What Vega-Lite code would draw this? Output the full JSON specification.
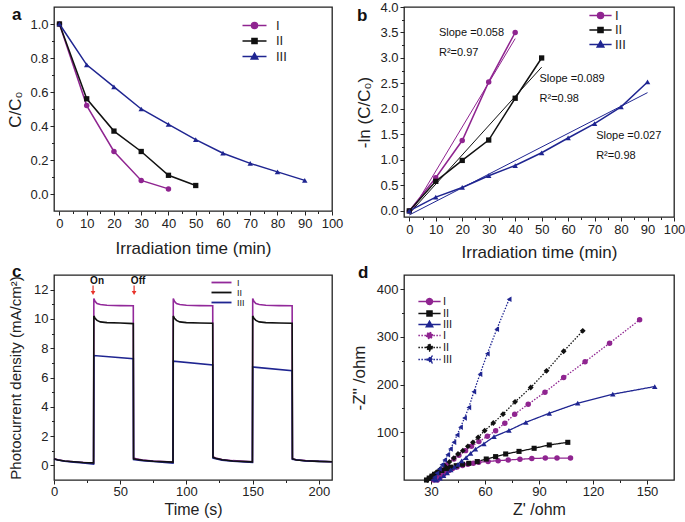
{
"$schema": "https://vega.github.io/schema/vega-lite/v6.json",
"padding": {"left": 6, "top": 0, "right": 1, "bottom": 0},
"background": "white",
"config": {
  "font": "Liberation Sans",
  "view": {"stroke": "#222", "strokeWidth": 1.3},
  "axis": {"domain": false, "grid": false, "tickColor": "#222", "tickWidth": 1, "labelColor": "#222", "labelFontSize": 13, "titleFontSize": 17, "titleFontWeight": "normal", "titleColor": "#222", "labelFont": "Liberation Sans", "titleFont": "Liberation Sans", "labelOverlap": false, "labelFlush": false, "labelPadding": 2},
  "legend": {"labelFont": "Liberation Sans", "labelColor": "#222", "padding": 0},
  "title": {"font": "Liberation Sans", "fontSize": 17, "fontWeight": "bold", "color": "#111", "anchor": "start", "frame": "group", "offset": 0, "baseline": "middle"}
},
"bounds": "flush",
"columns": 2,
"spacing": {"row": 58, "column": 72},
"resolve": {"scale": {"color": "independent", "shape": "independent", "strokeDash": "independent", "x": "independent", "y": "independent"}, "legend": {"color": "independent", "shape": "independent", "strokeDash": "independent"}},
"datasets": {
  "a": [
    {"t":0,"v":1.0,"s":"I"},{"t":10,"v":0.52,"s":"I"},{"t":20,"v":0.25,"s":"I"},{"t":30,"v":0.08,"s":"I"},{"t":40,"v":0.03,"s":"I"},
    {"t":0,"v":1.0,"s":"II"},{"t":10,"v":0.56,"s":"II"},{"t":20,"v":0.37,"s":"II"},{"t":30,"v":0.25,"s":"II"},{"t":40,"v":0.11,"s":"II"},{"t":50,"v":0.05,"s":"II"},
    {"t":0,"v":1.0,"s":"III"},{"t":10,"v":0.76,"s":"III"},{"t":20,"v":0.63,"s":"III"},{"t":30,"v":0.50,"s":"III"},{"t":40,"v":0.41,"s":"III"},{"t":50,"v":0.32,"s":"III"},{"t":60,"v":0.24,"s":"III"},{"t":70,"v":0.18,"s":"III"},{"t":80,"v":0.13,"s":"III"},{"t":90,"v":0.08,"s":"III"}
  ],
  "b": [
    {"t":0,"v":0,"s":"I"},{"t":10,"v":0.65,"s":"I"},{"t":20,"v":1.38,"s":"I"},{"t":30,"v":2.53,"s":"I"},{"t":40,"v":3.5,"s":"I"},
    {"t":0,"v":0,"s":"II"},{"t":10,"v":0.58,"s":"II"},{"t":20,"v":0.99,"s":"II"},{"t":30,"v":1.39,"s":"II"},{"t":40,"v":2.21,"s":"II"},{"t":50,"v":3.0,"s":"II"},
    {"t":0,"v":0,"s":"III"},{"t":10,"v":0.27,"s":"III"},{"t":20,"v":0.46,"s":"III"},{"t":30,"v":0.69,"s":"III"},{"t":40,"v":0.89,"s":"III"},{"t":50,"v":1.14,"s":"III"},{"t":60,"v":1.43,"s":"III"},{"t":70,"v":1.71,"s":"III"},{"t":80,"v":2.04,"s":"III"},{"t":90,"v":2.53,"s":"III"}
  ],
  "bfit": [
    {"t":1,"v":0.0,"s":"I"},{"t":40,"v":3.38,"s":"I"},
    {"t":0,"v":-0.05,"s":"II"},{"t":50,"v":2.82,"s":"II"},
    {"t":0,"v":-0.08,"s":"III"},{"t":90,"v":2.32,"s":"III"}
  ],
  "bnote": [
    {"t":11.2,"v":3.49,"note":"Slope =0.058"},{"t":11.2,"v":3.1,"note":"R²=0.97"},
    {"t":49.2,"v":2.59,"note":"Slope =0.089"},{"t":49.2,"v":2.2,"note":"R²=0.98"},
    {"t":70.6,"v":1.46,"note":"Slope =0.027"},{"t":70.6,"v":1.08,"note":"R²=0.98"}
  ],
  "c": [
    {"t":0,"v":0.45,"s":"I"},{"t":3,"v":0.38,"s":"I"},{"t":8,"v":0.3,"s":"I"},{"t":15,"v":0.25,"s":"I"},{"t":22,"v":0.2,"s":"I"},{"t":29.9,"v":0.15,"s":"I"},{"t":30.1,"v":11.4,"s":"I"},{"t":31,"v":11.2,"s":"I"},{"t":32.5,"v":11.05,"s":"I"},{"t":35,"v":10.98,"s":"I"},{"t":40,"v":10.93,"s":"I"},{"t":50,"v":10.91,"s":"I"},{"t":59.9,"v":10.9,"s":"I"},{"t":60.1,"v":0.5,"s":"I"},{"t":62,"v":0.45,"s":"I"},{"t":67,"v":0.36,"s":"I"},{"t":75,"v":0.3,"s":"I"},{"t":89.9,"v":0.22,"s":"I"},{"t":90.1,"v":11.4,"s":"I"},{"t":91,"v":11.2,"s":"I"},{"t":92.5,"v":11.05,"s":"I"},{"t":95,"v":10.98,"s":"I"},{"t":100,"v":10.93,"s":"I"},{"t":110,"v":10.91,"s":"I"},{"t":119.9,"v":10.9,"s":"I"},{"t":120.1,"v":0.6,"s":"I"},{"t":122,"v":0.5,"s":"I"},{"t":127,"v":0.4,"s":"I"},{"t":135,"v":0.32,"s":"I"},{"t":149.9,"v":0.24,"s":"I"},{"t":150.1,"v":11.4,"s":"I"},{"t":151,"v":11.2,"s":"I"},{"t":152.5,"v":11.05,"s":"I"},{"t":155,"v":10.98,"s":"I"},{"t":160,"v":10.93,"s":"I"},{"t":170,"v":10.91,"s":"I"},{"t":179.9,"v":10.9,"s":"I"},{"t":180.1,"v":0.45,"s":"I"},{"t":183,"v":0.38,"s":"I"},{"t":190,"v":0.32,"s":"I"},{"t":200,"v":0.28,"s":"I"},{"t":210,"v":0.25,"s":"I"},
    {"t":0,"v":0.45,"s":"II"},{"t":3,"v":0.37,"s":"II"},{"t":8,"v":0.3,"s":"II"},{"t":15,"v":0.25,"s":"II"},{"t":22,"v":0.2,"s":"II"},{"t":29.9,"v":0.17,"s":"II"},{"t":30.1,"v":10.2,"s":"II"},{"t":31,"v":10.05,"s":"II"},{"t":32.5,"v":9.9,"s":"II"},{"t":35,"v":9.8,"s":"II"},{"t":40,"v":9.75,"s":"II"},{"t":50,"v":9.72,"s":"II"},{"t":59.9,"v":9.68,"s":"II"},{"t":60.1,"v":0.45,"s":"II"},{"t":62,"v":0.42,"s":"II"},{"t":67,"v":0.35,"s":"II"},{"t":75,"v":0.28,"s":"II"},{"t":89.9,"v":0.22,"s":"II"},{"t":90.1,"v":10.2,"s":"II"},{"t":91,"v":10.05,"s":"II"},{"t":92.5,"v":9.9,"s":"II"},{"t":95,"v":9.8,"s":"II"},{"t":100,"v":9.75,"s":"II"},{"t":110,"v":9.72,"s":"II"},{"t":119.9,"v":9.7,"s":"II"},{"t":120.1,"v":0.55,"s":"II"},{"t":122,"v":0.48,"s":"II"},{"t":127,"v":0.38,"s":"II"},{"t":135,"v":0.3,"s":"II"},{"t":149.9,"v":0.24,"s":"II"},{"t":150.1,"v":10.2,"s":"II"},{"t":151,"v":10.05,"s":"II"},{"t":152.5,"v":9.9,"s":"II"},{"t":155,"v":9.8,"s":"II"},{"t":160,"v":9.75,"s":"II"},{"t":170,"v":9.72,"s":"II"},{"t":179.9,"v":9.7,"s":"II"},{"t":180.1,"v":0.45,"s":"II"},{"t":183,"v":0.37,"s":"II"},{"t":190,"v":0.31,"s":"II"},{"t":200,"v":0.27,"s":"II"},{"t":210,"v":0.25,"s":"II"},
    {"t":0,"v":0.42,"s":"III"},{"t":8,"v":0.28,"s":"III"},{"t":15,"v":0.22,"s":"III"},{"t":22,"v":0.17,"s":"III"},{"t":29.9,"v":0.08,"s":"III"},{"t":30.1,"v":7.5,"s":"III"},{"t":59.9,"v":7.28,"s":"III"},{"t":60.1,"v":0.4,"s":"III"},{"t":67,"v":0.32,"s":"III"},{"t":75,"v":0.26,"s":"III"},{"t":89.9,"v":0.15,"s":"III"},{"t":90.1,"v":7.12,"s":"III"},{"t":119.9,"v":6.85,"s":"III"},{"t":120.1,"v":0.5,"s":"III"},{"t":127,"v":0.36,"s":"III"},{"t":135,"v":0.28,"s":"III"},{"t":149.9,"v":0.2,"s":"III"},{"t":150.1,"v":6.72,"s":"III"},{"t":179.9,"v":6.46,"s":"III"},{"t":180.1,"v":0.42,"s":"III"},{"t":190,"v":0.3,"s":"III"},{"t":200,"v":0.27,"s":"III"},{"t":210,"v":0.25,"s":"III"}
  ],
  "cev": [{"ev":"On","t":29.5,"v":12.62},{"ev":"Off","t":60.5,"v":12.62}],
  "d": [
    {"zr":33.5,"zi":0,"s":"I-s"},{"zr":34.5,"zi":4,"s":"I-s"},{"zr":35.5,"zi":8,"s":"I-s"},{"zr":37,"zi":12,"s":"I-s"},{"zr":38.5,"zi":16,"s":"I-s"},{"zr":40,"zi":20,"s":"I-s"},{"zr":42,"zi":24,"s":"I-s"},{"zr":44.5,"zi":27.5,"s":"I-s"},{"zr":47.5,"zi":30.5,"s":"I-s"},{"zr":50.5,"zi":33,"s":"I-s"},{"zr":53.5,"zi":35,"s":"I-s"},{"zr":56.5,"zi":37,"s":"I-s"},{"zr":61.7,"zi":39,"s":"I-s"},{"zr":67.3,"zi":40.5,"s":"I-s"},{"zr":72.9,"zi":42,"s":"I-s"},{"zr":79.4,"zi":43.5,"s":"I-s"},{"zr":86,"zi":45,"s":"I-s"},{"zr":93.5,"zi":46,"s":"I-s"},{"zr":100,"zi":46,"s":"I-s"},{"zr":107.5,"zi":46,"s":"I-s"},
    {"zr":27.5,"zi":0,"s":"II-s"},{"zr":29,"zi":4,"s":"II-s"},{"zr":30.5,"zi":8,"s":"II-s"},{"zr":32,"zi":12,"s":"II-s"},{"zr":34,"zi":16,"s":"II-s"},{"zr":36,"zi":20,"s":"II-s"},{"zr":38.5,"zi":24,"s":"II-s"},{"zr":41,"zi":27,"s":"II-s"},{"zr":44,"zi":30,"s":"II-s"},{"zr":47.5,"zi":33,"s":"II-s"},{"zr":51,"zi":35,"s":"II-s"},{"zr":55.7,"zi":38.6,"s":"II-s"},{"zr":60.7,"zi":44,"s":"II-s"},{"zr":65.9,"zi":49,"s":"II-s"},{"zr":71.5,"zi":54.6,"s":"II-s"},{"zr":78.9,"zi":60,"s":"II-s"},{"zr":87.3,"zi":66.5,"s":"II-s"},{"zr":95.7,"zi":73.5,"s":"II-s"},{"zr":106,"zi":79,"s":"II-s"},
    {"zr":33,"zi":0,"s":"III-s"},{"zr":35,"zi":4,"s":"III-s"},{"zr":37,"zi":9,"s":"III-s"},{"zr":39,"zi":15,"s":"III-s"},{"zr":41,"zi":21,"s":"III-s"},{"zr":43,"zi":27,"s":"III-s"},{"zr":45,"zi":33,"s":"III-s"},{"zr":47,"zi":40,"s":"III-s"},{"zr":49.5,"zi":47,"s":"III-s"},{"zr":52,"zi":56,"s":"III-s"},{"zr":54.7,"zi":65,"s":"III-s"},{"zr":59.4,"zi":76,"s":"III-s"},{"zr":65,"zi":91,"s":"III-s"},{"zr":73.3,"zi":104,"s":"III-s"},{"zr":82.7,"zi":121,"s":"III-s"},{"zr":95.7,"zi":140,"s":"III-s"},{"zr":111.5,"zi":161,"s":"III-s"},{"zr":131,"zi":180,"s":"III-s"},{"zr":154.3,"zi":196,"s":"III-s"},
    {"zr":31.5,"zi":0,"s":"I-d"},{"zr":32.5,"zi":5,"s":"I-d"},{"zr":34,"zi":11,"s":"I-d"},{"zr":36,"zi":21,"s":"I-d"},{"zr":38.9,"zi":32,"s":"I-d"},{"zr":42.7,"zi":44,"s":"I-d"},{"zr":45.5,"zi":52,"s":"I-d"},{"zr":49.2,"zi":61.6,"s":"I-d"},{"zr":52.5,"zi":70.7,"s":"I-d"},{"zr":56.6,"zi":80.5,"s":"I-d"},{"zr":61.3,"zi":91.6,"s":"I-d"},{"zr":65.9,"zi":103.5,"s":"I-d"},{"zr":71,"zi":119,"s":"I-d"},{"zr":76.5,"zi":138,"s":"I-d"},{"zr":84,"zi":159,"s":"I-d"},{"zr":93.3,"zi":184,"s":"I-d"},{"zr":103.7,"zi":215,"s":"I-d"},{"zr":115.6,"zi":248,"s":"I-d"},{"zr":129.2,"zi":287,"s":"I-d"},{"zr":145.9,"zi":336,"s":"I-d"},
    {"zr":28,"zi":0,"s":"II-d"},{"zr":29.5,"zi":5,"s":"II-d"},{"zr":31,"zi":10,"s":"II-d"},{"zr":33,"zi":16,"s":"II-d"},{"zr":35,"zi":22,"s":"II-d"},{"zr":37.5,"zi":30,"s":"II-d"},{"zr":40.2,"zi":38,"s":"II-d"},{"zr":42.7,"zi":46,"s":"II-d"},{"zr":45,"zi":54.6,"s":"II-d"},{"zr":47.7,"zi":61.6,"s":"II-d"},{"zr":50.5,"zi":70.7,"s":"II-d"},{"zr":53.3,"zi":79,"s":"II-d"},{"zr":56.2,"zi":89.5,"s":"II-d"},{"zr":59.8,"zi":103.5,"s":"II-d"},{"zr":64.6,"zi":119.5,"s":"II-d"},{"zr":70,"zi":138,"s":"II-d"},{"zr":76.7,"zi":164,"s":"II-d"},{"zr":85.4,"zi":194,"s":"II-d"},{"zr":94.2,"zi":229,"s":"II-d"},{"zr":103.7,"zi":270,"s":"II-d"},{"zr":114.3,"zi":312.8,"s":"II-d"},
    {"zr":31.1,"zi":0,"s":"III-d"},{"zr":32,"zi":5.8,"s":"III-d"},{"zr":33.3,"zi":14,"s":"III-d"},{"zr":34.7,"zi":23,"s":"III-d"},{"zr":36.1,"zi":32,"s":"III-d"},{"zr":37.6,"zi":42,"s":"III-d"},{"zr":39.3,"zi":53,"s":"III-d"},{"zr":40.8,"zi":65,"s":"III-d"},{"zr":42.7,"zi":79,"s":"III-d"},{"zr":44.5,"zi":94.4,"s":"III-d"},{"zr":46.4,"zi":110.5,"s":"III-d"},{"zr":48.6,"zi":130,"s":"III-d"},{"zr":51,"zi":152,"s":"III-d"},{"zr":53.8,"zi":185,"s":"III-d"},{"zr":57.2,"zi":222,"s":"III-d"},{"zr":61.3,"zi":265,"s":"III-d"},{"zr":66.5,"zi":316,"s":"III-d"},{"zr":73.4,"zi":379,"s":"III-d"}
  ]
},
"concat": [
  {
    "title": {"text": "a", "dx": -42, "dy": 21},
    "width": 278, "height": 204,
    "data": {"name": "a"},
    "encoding": {
      "x": {"field": "t", "type": "quantitative", "scale": {"domain": [-2, 100], "nice": false, "zero": false},
        "axis": {"title": "Irradiation time (min)", "values": [0,5,10,15,20,25,30,35,40,45,50,55,60,65,70,75,80,85,90,95,100], "labelExpr": "datum.value % 10 === 0 ? datum.label : ''", "tickSize": {"condition": {"test": "datum.value % 10 === 0", "value": 4}, "value": 2.5}, "titlePadding": 10}},
      "y": {"field": "v", "type": "quantitative", "scale": {"domain": [-0.1, 1.1], "nice": false, "zero": false},
        "axis": {"title": "C/C₀", "values": [0,0.1,0.2,0.3,0.4,0.5,0.6,0.7,0.8,0.9,1.0], "format": ".1f", "labelExpr": "round(datum.value*10) % 2 === 0 ? datum.label : ''", "tickSize": {"condition": {"test": "round(datum.value*10) % 2 === 0", "value": 4}, "value": 2.5}, "titlePadding": 5}},
      "color": {"field": "s", "type": "nominal", "scale": {"domain": ["I","II","III"], "range": ["#8f2490","#111111","#1f2591"]},
        "legend": {"title": null, "orient": "none", "legendX": 194, "legendY": 12, "labelFontSize": 13, "labelOffset": 15, "rowPadding": 1.5, "symbolSize": 36, "symbolStrokeWidth": 1.5, "symbolOpacity": 1}}
    },
    "layer": [
      {"mark": {"type": "line", "strokeWidth": 1.5}},
      {"transform": [{"filter": "datum.s === 'I'"}], "mark": {"type": "point", "shape": "circle", "filled": true, "size": 30, "opacity": 1}},
      {"transform": [{"filter": "datum.s === 'II'"}], "mark": {"type": "point", "shape": "square", "filled": true, "size": 28, "opacity": 1}},
      {"transform": [{"filter": "datum.s === 'III'"}], "mark": {"type": "point", "shape": "triangle-up", "filled": true, "size": 30, "opacity": 1}},
      {"data": {"values": []}, "mark": {"type": "point", "filled": true, "size": 36, "opacity": 1},
       "encoding": {"shape": {"field": "s", "type": "nominal", "scale": {"domain": ["I","II","III"], "range": ["M-4,0H4M-1,0A1,1,0,1,0,1,0A1,1,0,1,0,-1,0Z", "M-4,0H4M-0.85,-0.85H0.85V0.85H-0.85Z", "M-4,0H4M0,-1.1L1.1,0.8H-1.1Z"]},
         "legend": {"title": null, "orient": "none", "legendX": 194, "legendY": 12, "labelFontSize": 13, "labelOffset": 15, "rowPadding": 1.5, "symbolSize": 36, "symbolStrokeWidth": 1.5, "symbolOpacity": 1}}}}
    ]
  },
  {
    "title": {"text": "b", "dx": -47, "dy": 27.5},
    "width": 270, "height": 210,
    "data": {"name": "b"},
    "encoding": {
      "x": {"field": "t", "type": "quantitative", "scale": {"domain": [-2, 100], "nice": false, "zero": false},
        "axis": {"title": "Irradiation time (min)", "values": [0,5,10,15,20,25,30,35,40,45,50,55,60,65,70,75,80,85,90,95,100], "labelExpr": "datum.value % 10 === 0 ? datum.label : ''", "tickSize": {"condition": {"test": "datum.value % 10 === 0", "value": 4}, "value": 2.5}, "titlePadding": 8}},
      "y": {"field": "v", "type": "quantitative", "scale": {"domain": [-0.12, 4.0], "nice": false, "zero": false},
        "axis": {"title": "-ln (C/C₀)", "values": [0,0.25,0.5,0.75,1,1.25,1.5,1.75,2,2.25,2.5,2.75,3,3.25,3.5,3.75,4], "format": ".1f", "labelExpr": "round(datum.value*4) % 2 === 0 ? datum.label : ''", "tickSize": {"condition": {"test": "round(datum.value*4) % 2 === 0", "value": 4}, "value": 2.5}, "titlePadding": 6}},
      "color": {"field": "s", "type": "nominal", "scale": {"domain": ["I","II","III"], "range": ["#8f2490","#111111","#1f2591"]},
        "legend": {"title": null, "orient": "none", "legendX": 190, "legendY": 2, "labelFontSize": 13, "labelOffset": 8, "rowPadding": 0.5, "symbolSize": 36, "symbolStrokeWidth": 1.5, "symbolOpacity": 1}}
    },
    "layer": [
      {"data": {"name": "bfit"}, "mark": {"type": "line", "strokeWidth": 1}},
      {"mark": {"type": "line", "strokeWidth": 1.5}},
      {"transform": [{"filter": "datum.s === 'I'"}], "mark": {"type": "point", "shape": "circle", "filled": true, "size": 30, "opacity": 1}},
      {"transform": [{"filter": "datum.s === 'II'"}], "mark": {"type": "point", "shape": "square", "filled": true, "size": 28, "opacity": 1}},
      {"transform": [{"filter": "datum.s === 'III'"}], "mark": {"type": "point", "shape": "triangle-up", "filled": true, "size": 30, "opacity": 1}},
      {"data": {"values": []}, "mark": {"type": "point", "filled": true, "size": 36, "opacity": 1},
       "encoding": {"shape": {"field": "s", "type": "nominal", "scale": {"domain": ["I","II","III"], "range": ["M-3.7,0H3.7M-1,0A1,1,0,1,0,1,0A1,1,0,1,0,-1,0Z", "M-3.7,0H3.7M-0.85,-0.85H0.85V0.85H-0.85Z", "M-3.7,0H3.7M0,-1.1L1.1,0.8H-1.1Z"]},
         "legend": {"title": null, "orient": "none", "legendX": 190, "legendY": 2, "labelFontSize": 13, "labelOffset": 8, "rowPadding": 0.5, "symbolSize": 36, "symbolStrokeWidth": 1.5, "symbolOpacity": 1}}}},
      {"data": {"name": "bnote"}, "mark": {"type": "text", "fontSize": 11, "align": "left", "baseline": "middle"},
       "encoding": {"text": {"field": "note"}, "color": {"value": "#111"}}}
    ]
  },
  {
    "title": {"text": "c", "dx": -42, "dy": 10},
    "width": 278, "height": 205,
    "data": {"name": "c"},
    "encoding": {
      "x": {"field": "t", "type": "quantitative", "scale": {"domain": [0, 210], "nice": false, "zero": false},
        "axis": {"title": "Time (s)", "titleFontSize": 16, "labelPadding": 1, "values": [0,25,50,75,100,125,150,175,200], "labelExpr": "datum.value % 50 === 0 ? datum.label : ''", "tickSize": {"condition": {"test": "datum.value % 50 === 0", "value": 4}, "value": 2.5}, "titlePadding": 3}},
      "y": {"field": "v", "type": "quantitative", "scale": {"domain": [-1, 13], "nice": false, "zero": false},
        "axis": {"title": "Photocurrent density (mA/cm²)", "titleFontSize": 15, "values": [0,1,2,3,4,5,6,7,8,9,10,11,12], "labelExpr": "datum.value % 2 === 0 ? datum.label : ''", "tickSize": {"condition": {"test": "datum.value % 2 === 0", "value": 4}, "value": 2.5}, "titlePadding": 10}},
      "color": {"field": "s", "type": "nominal", "scale": {"domain": ["I","II","III"], "range": ["#92299a","#111111","#1f2591"]},
        "legend": {"title": null, "orient": "none", "legendX": 163, "legendY": 3, "labelFontSize": 9, "labelOffset": 11, "rowPadding": 0, "symbolType": "M-4,0H4", "symbolSize": 25, "symbolStrokeWidth": 1.8, "symbolOpacity": 1}}
    },
    "layer": [
      {"transform": [{"filter": "datum.s === 'I'"}], "mark": {"type": "line", "strokeWidth": 1.6}},
      {"transform": [{"filter": "datum.s === 'III'"}], "mark": {"type": "line", "strokeWidth": 1.6}},
      {"transform": [{"filter": "datum.s === 'II'"}], "mark": {"type": "line", "strokeWidth": 1.6}},
      {"data": {"name": "cev"}, "mark": {"type": "rule", "strokeWidth": 1.2, "yOffset": 5, "y2Offset": 12},
       "encoding": {"y2": {"field": "v"}, "color": {"value": "#e8332b"}}},
      {"data": {"name": "cev"}, "mark": {"type": "point", "shape": "triangle-down", "filled": true, "size": 22, "opacity": 1, "yOffset": 12.5},
       "encoding": {"color": {"value": "#e8332b"}}},
      {"data": {"name": "cev"}, "mark": {"type": "text", "fontWeight": "bold", "fontSize": 10, "align": "center", "baseline": "middle", "dx": 4},
       "encoding": {"text": {"field": "ev"}, "color": {"value": "#111"}}}
    ]
  },
  {
    "title": {"text": "d", "dx": -46, "dy": 11},
    "width": 270, "height": 205,
    "data": {"name": "d"},
    "encoding": {
      "x": {"field": "zr", "type": "quantitative", "scale": {"domain": [15, 165], "nice": false, "zero": false},
        "axis": {"title": "Z' /ohm", "titleFontSize": 16, "labelPadding": 1, "values": [30,45,60,75,90,105,120,135,150], "labelExpr": "datum.value % 30 === 0 ? datum.label : ''", "tickSize": {"condition": {"test": "datum.value % 30 === 0", "value": 4}, "value": 2.5}, "titlePadding": 3}},
      "y": {"field": "zi", "type": "quantitative", "scale": {"domain": [0, 430], "nice": false, "zero": false},
        "axis": {"title": "-Z'' /ohm", "values": [50,100,150,200,250,300,350,400], "labelExpr": "datum.value % 100 === 0 ? datum.label : ''", "tickSize": {"condition": {"test": "datum.value % 100 === 0", "value": 4}, "value": 2.5}, "titlePadding": 8}},
      "color": {"field": "s", "type": "nominal", "scale": {"domain": ["I-s","II-s","III-s","I-d","II-d","III-d"], "range": ["#8f2490","#111111","#1f2591","#8f2490","#111111","#1f2591"]},
        "legend": {"title": null, "orient": "none", "legendX": 20, "legendY": 21, "labelFontSize": 11, "labelOffset": 8, "rowPadding": -2.5, "symbolSize": 36, "symbolStrokeWidth": 1.4, "symbolOpacity": 1, "labelExpr": "split(datum.label,'-')[0]"}}
    },
    "layer": [
      {"mark": {"type": "line", "strokeWidth": 1.3},
       "encoding": {"strokeDash": {"field": "s", "type": "nominal", "scale": {"domain": ["I-s","II-s","III-s","I-d","II-d","III-d"], "range": [[1,0],[1,0],[1,0],[1.5,1.5],[1.5,1.5],[1.5,1.5]]},
         "legend": {"title": null, "orient": "none", "legendX": 20, "legendY": 21, "labelFontSize": 11, "labelOffset": 8, "rowPadding": -2.5, "symbolSize": 36, "symbolStrokeWidth": 1.4, "symbolOpacity": 1, "labelExpr": "split(datum.label,'-')[0]"}}}},
      {"transform": [{"filter": "datum.s === 'I-s' || datum.s === 'I-d'"}], "mark": {"type": "point", "shape": "circle", "filled": true, "size": 30, "opacity": 1}},
      {"transform": [{"filter": "datum.s === 'II-s'"}], "mark": {"type": "point", "shape": "square", "filled": true, "size": 26, "opacity": 1}},
      {"transform": [{"filter": "datum.s === 'II-d'"}], "mark": {"type": "point", "shape": "diamond", "filled": true, "size": 34, "opacity": 1}},
      {"transform": [{"filter": "datum.s === 'III-s'"}], "mark": {"type": "point", "shape": "triangle-up", "filled": true, "size": 30, "opacity": 1}},
      {"transform": [{"filter": "datum.s === 'III-d'"}], "mark": {"type": "point", "shape": "triangle-left", "filled": true, "size": 30, "opacity": 1}},
      {"data": {"values": []}, "mark": {"type": "point", "filled": true, "size": 36, "opacity": 1},
       "encoding": {"shape": {"field": "s", "type": "nominal", "scale": {"domain": ["I-s","II-s","III-s","I-d","II-d","III-d"], "range": ["M-3.7,0H3.7M-1,0A1,1,0,1,0,1,0A1,1,0,1,0,-1,0Z", "M-3.7,0H3.7M-0.85,-0.85H0.85V0.85H-0.85Z", "M-3.7,0H3.7M0,-1.1L1.1,0.8H-1.1Z", "M-3.7,0H3.7M-1,0A1,1,0,1,0,1,0A1,1,0,1,0,-1,0Z", "M-3.7,0H3.7M0,-1.2L1.2,0L0,1.2L-1.2,0Z", "M-3.7,0H3.7M-1.1,0L0.8,-1.1V1.1Z"]},
         "legend": {"title": null, "orient": "none", "legendX": 20, "legendY": 21, "labelFontSize": 11, "labelOffset": 8, "rowPadding": -2.5, "symbolSize": 36, "symbolStrokeWidth": 1.4, "symbolOpacity": 1, "labelExpr": "split(datum.label,'-')[0]"}}}}
    ]
  }
]
}
